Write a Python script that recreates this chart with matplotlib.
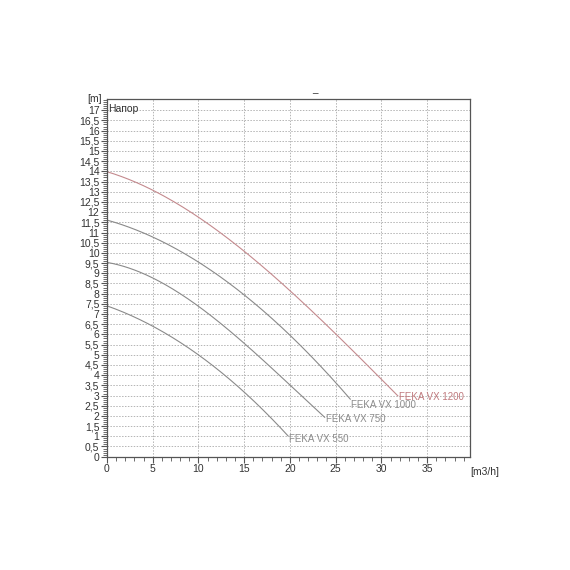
import numpy as np
import matplotlib.pyplot as plt
from matplotlib.ticker import MultipleLocator, FuncFormatter

plt.rcParams['font.family'] = ['Liberation Sans', 'DejaVu Sans']

# Кривые насосов (расход м3/ч, напор м)
q_550 = [0, 5, 10, 12.7, 15, 18.9, 19.8]
h_550 = [7.4, 6.4, 5.03, 4.0, 3.2, 1.47, 1.0]

q_750 = [0, 5, 10.2, 15, 21.1, 23.8]
h_750 = [9.5, 8.9, 7.1, 5.72, 3.0, 1.95]

q_1000 = [0, 5, 10, 15, 20, 25, 26.6]
h_1000 = [11.6, 10.82, 9.48, 8.0, 5.92, 3.68, 2.8]

q_1200 = [0, 5, 10, 15, 20, 24.6, 29.9, 31.8]
h_1200 = [14.0, 13.04, 11.75, 10.1, 8.17, 6.2, 3.76, 3.05]

names = ['FEKA VX 550', 'FEKA VX 750', 'FEKA VX 1000', 'FEKA VX 1200']
line_colors = ['#8a8a8a', '#8a8a8a', '#8a8a8a', '#c48a8e']
text_colors = ['#8c8c8c', '#8c8c8c', '#8c8c8c', '#c07a7e']
label_dy = [-0.12, -0.12, -0.25, -0.1]

fig = plt.figure(figsize=(5.7, 5.7), dpi=100)
ax = fig.add_axes([0.1877, 0.1988, 0.637, 0.6275])

curves = [(q_550, h_550), (q_750, h_750), (q_1000, h_1000), (q_1200, h_1200)]
for (q, h), name, lc, tc, dy in zip(curves, names, line_colors, text_colors, label_dy):
    # гладкая кривая по точкам
    c = np.polyfit(q, h, 3)
    qq = np.linspace(q[0], q[-1], 200)
    ax.plot(qq, np.polyval(c, qq), color=lc, lw=0.8)
    ax.text(q[-1] + 0.1, h[-1] + dy, name, color=tc, fontsize=7,
            ha='left', va='center')

ax.set_xlim(0, 39.7)
ax.set_ylim(0, 17.55)
ax.xaxis.set_minor_locator(MultipleLocator(1))
ax.yaxis.set_minor_locator(MultipleLocator(0.1))
ax.set_xticks(np.arange(0, 36, 5))
ax.set_yticks(np.arange(0, 17.01, 0.5))
fmt = FuncFormatter(lambda v, p: ('%g' % v).replace('.', ','))
ax.yaxis.set_major_formatter(fmt)

ax.grid(True, which='major', color='#b4b4b4', ls=(0, (1.5, 1.5)), lw=0.7)
ax.tick_params(which='major', length=4, width=0.8, color='#555555',
               labelsize=7.5, labelcolor='#333333', pad=1.5)
ax.tick_params(which='minor', length=3, width=0.6, color='#555555')
for s in ax.spines.values():
    s.set_color('#555555')
    s.set_linewidth(0.9)

ax.text(0.004, 0.985, 'Напор', transform=ax.transAxes, fontsize=7.5,
        color='#333333', ha='left', va='top')
ax.text(-0.015, 1.0, '[m]', transform=ax.transAxes, fontsize=7.5,
        color='#333333', ha='right', va='center')
ax.text(1.0, -0.03, '[m3/h]', transform=ax.transAxes, fontsize=7.5,
        color='#333333', ha='left', va='top')
fig.text(315 / 570, 1 - 94 / 570, '_', fontsize=7, color='#333333',
         ha='center', va='bottom')

fig.savefig('out.png', dpi=100, facecolor='white')
